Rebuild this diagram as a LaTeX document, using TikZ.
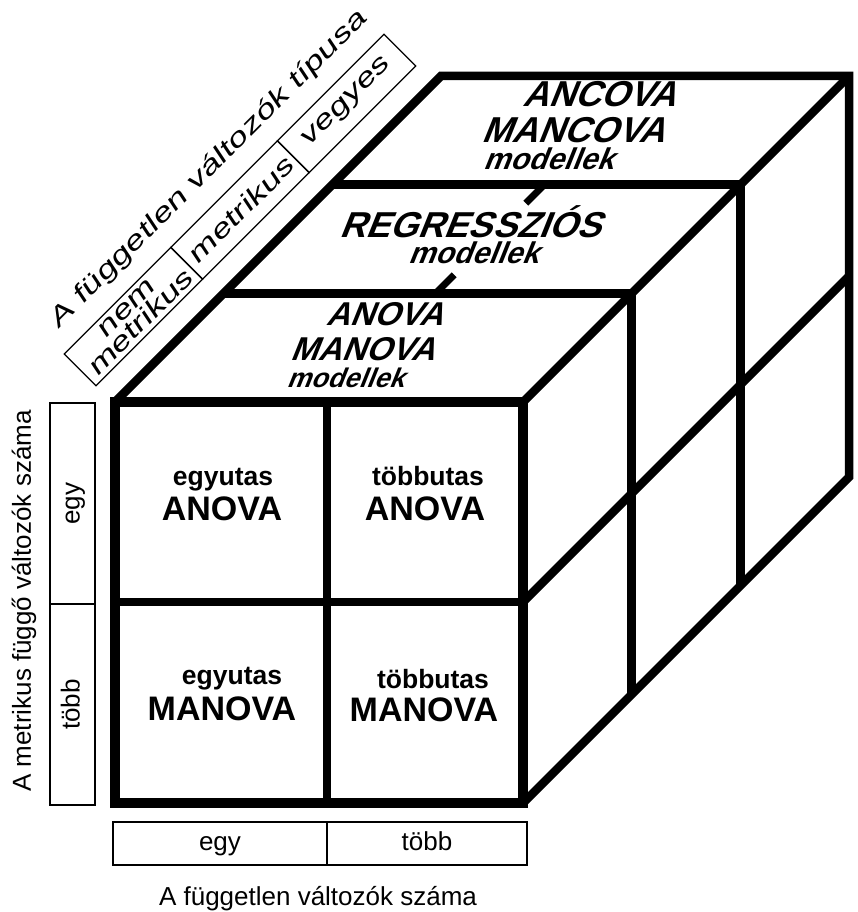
\documentclass[tikz,border=0pt]{standalone}
\usepackage{fontspec}
\setmainfont{Liberation Sans}
\newfontfamily\slabfont[FakeSlant=0.4]{Liberation Sans Bold}
\newfontfamily\widefont[FakeSlant=0.2,FakeStretch=1.4]{Liberation Sans}
\usetikzlibrary{positioning,calc}
\tikzset{
    every node/.style={inner sep=0pt,outer sep=0pt},
    edge3d/.style={line width=8.5pt,line join=miter},
    frontedge/.style={line width=9.5pt,line join=miter},
    stub/.style={line width=7pt},
    labelbox/.style={draw,line width=1.3pt,align=center},
    cellsmall/.style={anchor=base,font=\fontsize{26.5}{30}\selectfont\bfseries},
    cellbig/.style={anchor=base,font=\fontsize{34}{38}\selectfont\bfseries},
    slabbig/.style={anchor=base,font=\fontsize{#1}{#1}\slabfont},
    slabbig/.default=33,
    slabsmall/.style={anchor=base,font=\fontsize{#1}{#1}\slabfont},
    slabsmall/.default=27,
    axis/.style={font=\fontsize{26}{30}\selectfont},
    axisbox/.style={labelbox,axis,text height=20pt,text depth=6pt},
    slanted/.style={font=\fontsize{26}{21}\widefont},
    slantedtitle/.style={font=\fontsize{26}{30}\widefont}
}

\begin{document}
\begin{tikzpicture}[x=1pt,y=-1pt]
\useasboundingbox (0,0) rectangle (857,912);

% cube corners
\coordinate (ftl) at (115,402);
\coordinate (ftr) at (523,402);
\coordinate (fbl) at (115,803);
\coordinate (fbr) at (523,803);
\coordinate (fmt) at (327,402);
\coordinate (fmb) at (327,803);
\coordinate (fml) at (115,602);
\coordinate (fmr) at (523,602);
\coordinate (btl) at ($(ftl)+(326,-326)$);
\coordinate (btr) at ($(ftr)+(326,-326)$);
\coordinate (bbr) at ($(fbr)+(326,-326)$);
\coordinate (bmr) at ($(fmr)+(326,-326)$);
\coordinate (bmt) at ($(fmt)+(326,-326)$);

% top and side
\draw[edge3d] (ftl) -- (btl) -- (btr) -- (bbr) -- (fbr);
\draw[edge3d] (ftr) -- (btr);
\draw[edge3d] (fmr) -- (bmr);
\foreach \t in {1,2}
    \draw[edge3d] ($(ftl)!\t/3!(btl)$) -- ($(ftr)!\t/3!(btr)$) -- ($(fbr)!\t/3!(bbr)$);
\draw[stub] ($(fmt)!1/3!(bmt)$) -- ($(fmt)!0.39!(bmt)$);
\draw[stub] ($(fmt)!0.61!(bmt)$) -- ($(fmt)!2/3!(bmt)$);

% front face
\draw[edge3d] (fmt) -- (fmb) (fml) -- (fmr);
\draw[frontedge] (ftl) rectangle (fbr);

% cells
\node[cellsmall] (c11a) at (223,485) {egyutas};
\node[cellbig] (c11b) at (222,520) {ANOVA};
\node[cellsmall] (c12a) at (428,485) {többutas};
\node[cellbig] (c12b) at (425,520) {ANOVA};
\node[cellsmall] (c21a) at (232,684) {egyutas};
\node[cellbig] (c21b) at (222,720) {MANOVA};
\node[cellsmall] (c22a) at (433,688) {többutas};
\node[cellbig] (c22b) at (424,721) {MANOVA};

% slabs
\node[slabbig] (anova) at (384,325) {ANOVA};
\node[slabbig] (manova) at (362,360) {MANOVA};
\node[slabsmall] (mod1) at (345,387) {modellek};
\node[slabbig=36] (regr) at (470,237) {REGRESSZIÓS};
\node[slabsmall=30] (mod2) at (473,263) {modellek};
\node[slabbig=36] (ancova) at (599,107) {ANCOVA};
\node[slabbig=36] (mancova) at (573,143) {MANCOVA};
\node[slabsmall=30] (mod3) at (548,170) {modellek};

% bottom axis
\node[axisbox,minimum width=214pt,minimum height=43pt] (xone) at (220,843.5) {egy};
\node[axisbox,minimum width=200pt,minimum height=43pt,right=0pt of xone] (xmany) {több};
\node[axis,anchor=base] (xtitle) at (318,905) {A független változók száma};

% left axis
\node[axisbox,rotate=90,minimum width=201pt,minimum height=45pt] (yone) at (72.5,503.5) {egy};
\node[axisbox,rotate=90,minimum width=201pt,minimum height=45pt] (ymany) at (72.5,704.5) {több};
\node[axis,rotate=90] (ytitle) at (24,601) {A metrikus függő változók száma};

% slanted axis
\node[labelbox,slanted,rotate=45,minimum width=150.7pt,minimum height=45pt] (zone) at (133.4,316.6) {nem\\metrikus};
\node[labelbox,slanted,rotate=45,minimum width=150.7pt,minimum height=45pt] (ztwo) at (240,210) {metrikus};
\node[labelbox,slanted,rotate=45,minimum width=150.7pt,minimum height=45pt] (zthree) at (346.6,103.4) {vegyes};
\node[slantedtitle,rotate=45,anchor=base] (ztitle) at (213,175) {A független változók típusa};
\end{tikzpicture}
\end{document}
